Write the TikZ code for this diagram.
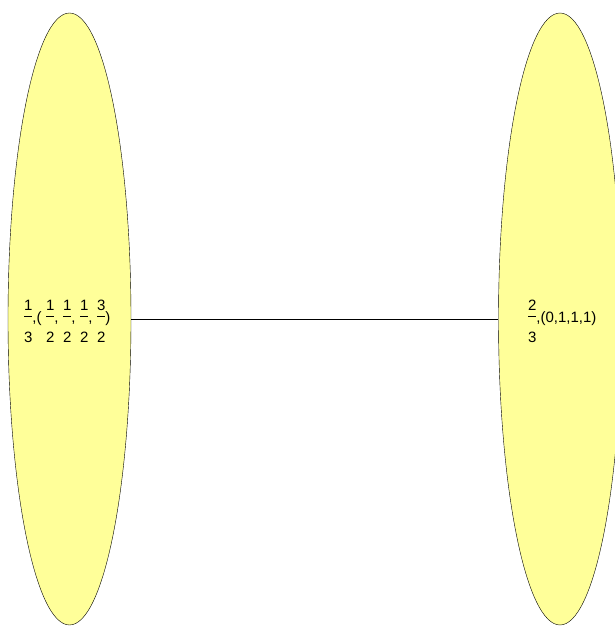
\documentclass[tikz,border=0pt]{standalone}
\usepackage{fontspec}
\setmainfont{Liberation Sans}
\usetikzlibrary{shapes.geometric}
\definecolor{setfill}{RGB}{255,255,153}
% stacked fraction: numerator high, bar near the baseline, denominator low
\newcommand{\fr}[2]{\hspace{.3em}\smash{\rlap{\raisebox{.8em}{#1}}\rlap{\raisebox{-1.3em}{#2}}\rule[.4em]{.556em}{.07em}}}
% label that does not widen the ellipse
\newcommand{\setlabel}[1]{\makebox[0pt]{#1}}

\begin{document}
\begin{tikzpicture}[
  x=1pt, y=1pt,
  setnode/.style={draw, ellipse, fill=setfill, inner sep=0pt,
    minimum width=123pt, minimum height=612pt, font=\fontsize{15}{18}\selectfont},
  link/.style={thin}
]
\useasboundingbox (0,0) rectangle (614,-626);
\node[setnode] (left) at (69.5,-319) {\setlabel{\fr13,(\fr12,\fr12,\fr12,\fr32)\hspace{9pt}}};
\node[setnode] (right) at (560,-319) {\setlabel{\fr23,(0,1,1,1)}};

\draw[link] (left) -- (right);
\end{tikzpicture}
\end{document}
